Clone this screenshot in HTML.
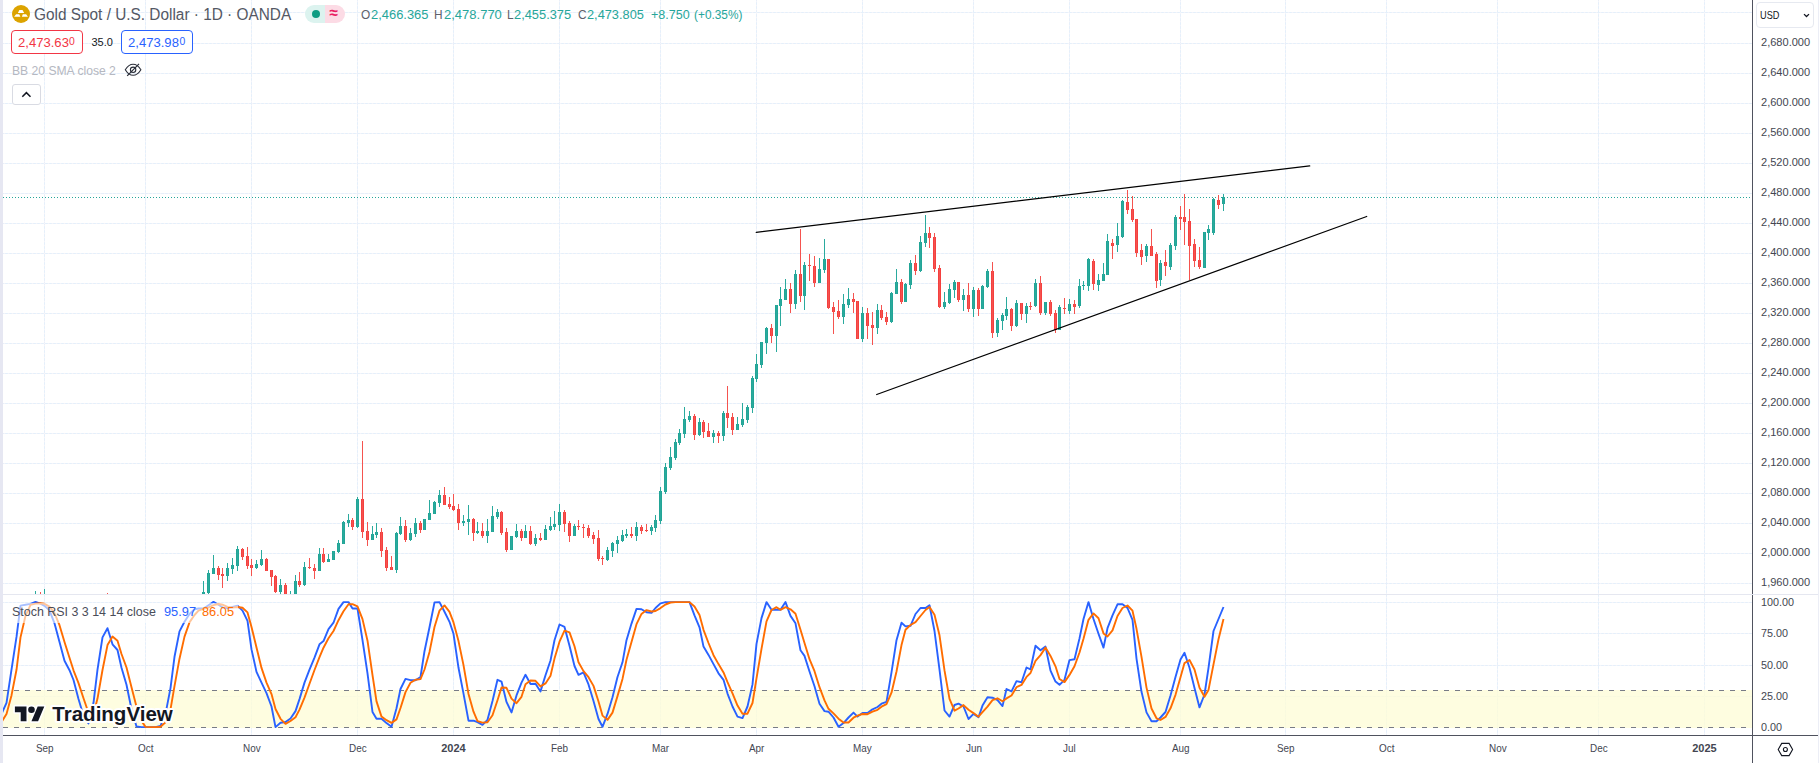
<!DOCTYPE html><html><head><meta charset="utf-8"><title>XAUUSD</title><style>
html,body{margin:0;padding:0;background:#fff}
body{width:1819px;height:763px;position:relative;overflow:hidden;font-family:"Liberation Sans",sans-serif;}
.t{position:absolute;white-space:nowrap;line-height:1;}
.pl{font-size:11px;color:#434651;left:1761px}
.tl{font-size:11px;color:#434651;top:742.5px;transform:translateX(-50%)}

</style></head><body>
<svg width="1819" height="763" viewBox="0 0 1819 763" style="position:absolute;left:0;top:0">
<defs><clipPath id="mp"><rect x="3" y="0" width="1749" height="594"/></clipPath><clipPath id="sp"><rect x="3" y="595" width="1749" height="140"/></clipPath></defs>
<defs><pattern id="gh" x="0" y="0" width="4" height="1" patternUnits="userSpaceOnUse"><rect x="0" y="0" width="1" height="1" fill="#f2f5fb"/><rect x="1" y="0" width="1" height="1" fill="#eaeff9"/><rect x="2" y="0" width="1" height="1" fill="#e2f1fc"/><rect x="3" y="0" width="1" height="1" fill="#eaeff9"/></pattern><pattern id="gv" x="0" y="0" width="1" height="4" patternUnits="userSpaceOnUse"><rect x="0" y="0" width="1" height="1" fill="#eaeff9"/><rect x="0" y="1" width="1" height="1" fill="#f2f5fb"/><rect x="0" y="2" width="1" height="1" fill="#eaeff9"/><rect x="0" y="3" width="1" height="1" fill="#e2f1fc"/></pattern></defs>
<g shape-rendering="crispEdges">
<rect x="44" y="0" width="1" height="735" fill="url(#gv)"/>
<rect x="145" y="0" width="1" height="735" fill="url(#gv)"/>
<rect x="251" y="0" width="1" height="735" fill="url(#gv)"/>
<rect x="357" y="0" width="1" height="735" fill="url(#gv)"/>
<rect x="453" y="0" width="1" height="735" fill="url(#gv)"/>
<rect x="559" y="0" width="1" height="735" fill="url(#gv)"/>
<rect x="660" y="0" width="1" height="735" fill="url(#gv)"/>
<rect x="756" y="0" width="1" height="735" fill="url(#gv)"/>
<rect x="862" y="0" width="1" height="735" fill="url(#gv)"/>
<rect x="973" y="0" width="1" height="735" fill="url(#gv)"/>
<rect x="1069" y="0" width="1" height="735" fill="url(#gv)"/>
<rect x="1180" y="0" width="1" height="735" fill="url(#gv)"/>
<rect x="1285" y="0" width="1" height="735" fill="url(#gv)"/>
<rect x="1386" y="0" width="1" height="735" fill="url(#gv)"/>
<rect x="1497" y="0" width="1" height="735" fill="url(#gv)"/>
<rect x="1598" y="0" width="1" height="735" fill="url(#gv)"/>
<rect x="1704" y="0" width="1" height="735" fill="url(#gv)"/>
<rect x="3" y="12" width="1749" height="1" fill="url(#gh)"/>
<rect x="3" y="43" width="1749" height="1" fill="url(#gh)"/>
<rect x="3" y="73" width="1749" height="1" fill="url(#gh)"/>
<rect x="3" y="103" width="1749" height="1" fill="url(#gh)"/>
<rect x="3" y="133" width="1749" height="1" fill="url(#gh)"/>
<rect x="3" y="163" width="1749" height="1" fill="url(#gh)"/>
<rect x="3" y="193" width="1749" height="1" fill="url(#gh)"/>
<rect x="3" y="223" width="1749" height="1" fill="url(#gh)"/>
<rect x="3" y="253" width="1749" height="1" fill="url(#gh)"/>
<rect x="3" y="283" width="1749" height="1" fill="url(#gh)"/>
<rect x="3" y="313" width="1749" height="1" fill="url(#gh)"/>
<rect x="3" y="343" width="1749" height="1" fill="url(#gh)"/>
<rect x="3" y="373" width="1749" height="1" fill="url(#gh)"/>
<rect x="3" y="403" width="1749" height="1" fill="url(#gh)"/>
<rect x="3" y="433" width="1749" height="1" fill="url(#gh)"/>
<rect x="3" y="463" width="1749" height="1" fill="url(#gh)"/>
<rect x="3" y="493" width="1749" height="1" fill="url(#gh)"/>
<rect x="3" y="523" width="1749" height="1" fill="url(#gh)"/>
<rect x="3" y="553" width="1749" height="1" fill="url(#gh)"/>
<rect x="3" y="583" width="1749" height="1" fill="url(#gh)"/>
<rect x="3" y="602" width="1749" height="1" fill="url(#gh)"/>
<rect x="3" y="633" width="1749" height="1" fill="url(#gh)"/>
<rect x="3" y="665" width="1749" height="1" fill="url(#gh)"/>
<rect x="3" y="696" width="1749" height="1" fill="url(#gh)"/>
</g>
<g shape-rendering="crispEdges">
<rect x="3" y="690" width="1749" height="38" fill="#fefcd6" fill-opacity="0.75"/>
</g>
<g stroke="#787b86" stroke-width="1" stroke-dasharray="5 6" shape-rendering="crispEdges"><line x1="3" y1="690.5" x2="1752" y2="690.5"/><line x1="3" y1="727.5" x2="1752" y2="727.5"/></g>
<line x1="3" y1="197.5" x2="1752" y2="197.5" stroke="#26a69a" stroke-width="1" stroke-dasharray="1 2" shape-rendering="crispEdges"/>
<g clip-path="url(#mp)" shape-rendering="crispEdges">
<rect x="34" y="596" width="3" height="4" fill="#22a596"/><rect x="35" y="591" width="1" height="9" fill="#2aaa9e"/>
<rect x="39" y="596" width="3" height="4" fill="#f4403f"/><rect x="40" y="592" width="1" height="8" fill="#f5534f"/>
<rect x="43" y="596" width="3" height="4" fill="#22a596"/><rect x="44" y="589" width="1" height="11" fill="#2aaa9e"/>
<rect x="106" y="596" width="3" height="4" fill="#f4403f"/><rect x="107" y="593" width="1" height="7" fill="#f5534f"/>
<rect x="202" y="592" width="3" height="8" fill="#22a596"/><rect x="203" y="581" width="1" height="19" fill="#2aaa9e"/>
<rect x="207" y="573" width="3" height="20" fill="#22a596"/><rect x="208" y="570" width="1" height="24" fill="#2aaa9e"/>
<rect x="212" y="568" width="3" height="6" fill="#22a596"/><rect x="213" y="555" width="1" height="19" fill="#2aaa9e"/>
<rect x="217" y="568" width="3" height="7" fill="#f4403f"/><rect x="218" y="566" width="1" height="14" fill="#f5534f"/>
<rect x="221" y="574" width="3" height="2" fill="#f4403f"/><rect x="222" y="568" width="1" height="20" fill="#f5534f"/>
<rect x="226" y="568" width="3" height="8" fill="#22a596"/><rect x="227" y="563" width="1" height="18" fill="#2aaa9e"/>
<rect x="231" y="565" width="3" height="4" fill="#22a596"/><rect x="232" y="558" width="1" height="16" fill="#2aaa9e"/>
<rect x="236" y="549" width="3" height="17" fill="#22a596"/><rect x="237" y="546" width="1" height="25" fill="#2aaa9e"/>
<rect x="241" y="549" width="3" height="8" fill="#f4403f"/><rect x="242" y="548" width="1" height="12" fill="#f5534f"/>
<rect x="246" y="556" width="3" height="10" fill="#f4403f"/><rect x="247" y="547" width="1" height="22" fill="#f5534f"/>
<rect x="250" y="565" width="3" height="3" fill="#f4403f"/><rect x="251" y="559" width="1" height="17" fill="#f5534f"/>
<rect x="255" y="564" width="3" height="4" fill="#22a596"/><rect x="256" y="560" width="1" height="9" fill="#2aaa9e"/>
<rect x="260" y="559" width="3" height="6" fill="#22a596"/><rect x="261" y="550" width="1" height="16" fill="#2aaa9e"/>
<rect x="265" y="559" width="3" height="12" fill="#f4403f"/><rect x="266" y="558" width="1" height="13" fill="#f5534f"/>
<rect x="270" y="570" width="3" height="7" fill="#f4403f"/><rect x="271" y="570" width="1" height="16" fill="#f5534f"/>
<rect x="274" y="576" width="3" height="16" fill="#f4403f"/><rect x="275" y="575" width="1" height="18" fill="#f5534f"/>
<rect x="279" y="585" width="3" height="7" fill="#22a596"/><rect x="280" y="579" width="1" height="15" fill="#2aaa9e"/>
<rect x="284" y="585" width="3" height="15" fill="#f4403f"/><rect x="285" y="583" width="1" height="17" fill="#f5534f"/>
<rect x="289" y="597" width="3" height="3" fill="#22a596"/><rect x="290" y="591" width="1" height="9" fill="#2aaa9e"/>
<rect x="294" y="581" width="3" height="19" fill="#22a596"/><rect x="295" y="575" width="1" height="25" fill="#2aaa9e"/>
<rect x="298" y="581" width="3" height="4" fill="#f4403f"/><rect x="299" y="572" width="1" height="15" fill="#f5534f"/>
<rect x="303" y="567" width="3" height="18" fill="#22a596"/><rect x="304" y="562" width="1" height="24" fill="#2aaa9e"/>
<rect x="308" y="567" width="3" height="1" fill="#f4403f"/><rect x="309" y="558" width="1" height="11" fill="#f5534f"/>
<rect x="313" y="568" width="3" height="3" fill="#f4403f"/><rect x="314" y="564" width="1" height="15" fill="#f5534f"/>
<rect x="318" y="554" width="3" height="17" fill="#22a596"/><rect x="319" y="548" width="1" height="23" fill="#2aaa9e"/>
<rect x="322" y="554" width="3" height="8" fill="#f4403f"/><rect x="323" y="548" width="1" height="15" fill="#f5534f"/>
<rect x="327" y="559" width="3" height="3" fill="#22a596"/><rect x="328" y="554" width="1" height="8" fill="#2aaa9e"/>
<rect x="332" y="551" width="3" height="9" fill="#22a596"/><rect x="333" y="551" width="1" height="9" fill="#2aaa9e"/>
<rect x="337" y="543" width="3" height="9" fill="#22a596"/><rect x="338" y="540" width="1" height="13" fill="#2aaa9e"/>
<rect x="342" y="522" width="3" height="22" fill="#22a596"/><rect x="343" y="521" width="1" height="23" fill="#2aaa9e"/>
<rect x="347" y="520" width="3" height="3" fill="#22a596"/><rect x="348" y="514" width="1" height="13" fill="#2aaa9e"/>
<rect x="351" y="520" width="3" height="7" fill="#f4403f"/><rect x="352" y="518" width="1" height="12" fill="#f5534f"/>
<rect x="356" y="499" width="3" height="28" fill="#22a596"/><rect x="357" y="497" width="1" height="31" fill="#2aaa9e"/>
<rect x="361" y="499" width="3" height="33" fill="#f4403f"/><rect x="362" y="441" width="1" height="97" fill="#f5534f"/>
<rect x="366" y="531" width="3" height="9" fill="#f4403f"/><rect x="367" y="522" width="1" height="24" fill="#f5534f"/>
<rect x="371" y="534" width="3" height="6" fill="#22a596"/><rect x="372" y="526" width="1" height="14" fill="#2aaa9e"/>
<rect x="375" y="532" width="3" height="3" fill="#22a596"/><rect x="376" y="523" width="1" height="15" fill="#2aaa9e"/>
<rect x="380" y="532" width="3" height="19" fill="#f4403f"/><rect x="381" y="528" width="1" height="29" fill="#f5534f"/>
<rect x="385" y="550" width="3" height="18" fill="#f4403f"/><rect x="386" y="547" width="1" height="24" fill="#f5534f"/>
<rect x="390" y="567" width="3" height="3" fill="#f4403f"/><rect x="391" y="556" width="1" height="14" fill="#f5534f"/>
<rect x="395" y="533" width="3" height="37" fill="#22a596"/><rect x="396" y="532" width="1" height="41" fill="#2aaa9e"/>
<rect x="399" y="526" width="3" height="8" fill="#22a596"/><rect x="400" y="517" width="1" height="18" fill="#2aaa9e"/>
<rect x="404" y="526" width="3" height="14" fill="#f4403f"/><rect x="405" y="520" width="1" height="22" fill="#f5534f"/>
<rect x="409" y="533" width="3" height="7" fill="#22a596"/><rect x="410" y="528" width="1" height="13" fill="#2aaa9e"/>
<rect x="414" y="523" width="3" height="11" fill="#22a596"/><rect x="415" y="518" width="1" height="19" fill="#2aaa9e"/>
<rect x="419" y="523" width="3" height="7" fill="#f4403f"/><rect x="420" y="521" width="1" height="12" fill="#f5534f"/>
<rect x="423" y="519" width="3" height="11" fill="#22a596"/><rect x="424" y="519" width="1" height="11" fill="#2aaa9e"/>
<rect x="428" y="513" width="3" height="7" fill="#22a596"/><rect x="429" y="500" width="1" height="20" fill="#2aaa9e"/>
<rect x="433" y="502" width="3" height="12" fill="#22a596"/><rect x="434" y="501" width="1" height="13" fill="#2aaa9e"/>
<rect x="438" y="495" width="3" height="8" fill="#22a596"/><rect x="439" y="490" width="1" height="17" fill="#2aaa9e"/>
<rect x="443" y="495" width="3" height="10" fill="#f4403f"/><rect x="444" y="487" width="1" height="18" fill="#f5534f"/>
<rect x="448" y="504" width="3" height="3" fill="#f4403f"/><rect x="449" y="497" width="1" height="12" fill="#f5534f"/>
<rect x="452" y="506" width="3" height="4" fill="#f4403f"/><rect x="453" y="494" width="1" height="17" fill="#f5534f"/>
<rect x="457" y="509" width="3" height="14" fill="#f4403f"/><rect x="458" y="504" width="1" height="26" fill="#f5534f"/>
<rect x="462" y="521" width="3" height="2" fill="#22a596"/><rect x="463" y="515" width="1" height="11" fill="#2aaa9e"/>
<rect x="467" y="519" width="3" height="3" fill="#22a596"/><rect x="468" y="505" width="1" height="30" fill="#2aaa9e"/>
<rect x="472" y="519" width="3" height="14" fill="#f4403f"/><rect x="473" y="518" width="1" height="23" fill="#f5534f"/>
<rect x="476" y="531" width="3" height="2" fill="#22a596"/><rect x="477" y="522" width="1" height="12" fill="#2aaa9e"/>
<rect x="481" y="531" width="3" height="5" fill="#f4403f"/><rect x="482" y="523" width="1" height="15" fill="#f5534f"/>
<rect x="486" y="531" width="3" height="5" fill="#22a596"/><rect x="487" y="519" width="1" height="24" fill="#2aaa9e"/>
<rect x="491" y="516" width="3" height="16" fill="#22a596"/><rect x="492" y="506" width="1" height="26" fill="#2aaa9e"/>
<rect x="496" y="512" width="3" height="5" fill="#22a596"/><rect x="497" y="509" width="1" height="10" fill="#2aaa9e"/>
<rect x="500" y="512" width="3" height="21" fill="#f4403f"/><rect x="501" y="511" width="1" height="24" fill="#f5534f"/>
<rect x="505" y="532" width="3" height="18" fill="#f4403f"/><rect x="506" y="528" width="1" height="24" fill="#f5534f"/>
<rect x="510" y="536" width="3" height="14" fill="#22a596"/><rect x="511" y="536" width="1" height="14" fill="#2aaa9e"/>
<rect x="515" y="531" width="3" height="6" fill="#22a596"/><rect x="516" y="524" width="1" height="14" fill="#2aaa9e"/>
<rect x="520" y="531" width="3" height="7" fill="#f4403f"/><rect x="521" y="529" width="1" height="12" fill="#f5534f"/>
<rect x="524" y="531" width="3" height="7" fill="#22a596"/><rect x="525" y="525" width="1" height="13" fill="#2aaa9e"/>
<rect x="529" y="531" width="3" height="13" fill="#f4403f"/><rect x="530" y="526" width="1" height="19" fill="#f5534f"/>
<rect x="534" y="538" width="3" height="6" fill="#22a596"/><rect x="535" y="534" width="1" height="12" fill="#2aaa9e"/>
<rect x="539" y="538" width="3" height="2" fill="#f4403f"/><rect x="540" y="533" width="1" height="8" fill="#f5534f"/>
<rect x="544" y="529" width="3" height="11" fill="#22a596"/><rect x="545" y="525" width="1" height="15" fill="#2aaa9e"/>
<rect x="549" y="526" width="3" height="4" fill="#22a596"/><rect x="550" y="517" width="1" height="14" fill="#2aaa9e"/>
<rect x="553" y="524" width="3" height="3" fill="#22a596"/><rect x="554" y="511" width="1" height="19" fill="#2aaa9e"/>
<rect x="558" y="512" width="3" height="13" fill="#22a596"/><rect x="559" y="504" width="1" height="27" fill="#2aaa9e"/>
<rect x="563" y="512" width="3" height="12" fill="#f4403f"/><rect x="564" y="510" width="1" height="22" fill="#f5534f"/>
<rect x="568" y="523" width="3" height="13" fill="#f4403f"/><rect x="569" y="521" width="1" height="21" fill="#f5534f"/>
<rect x="573" y="526" width="3" height="10" fill="#22a596"/><rect x="574" y="524" width="1" height="12" fill="#2aaa9e"/>
<rect x="577" y="526" width="3" height="1" fill="#f4403f"/><rect x="578" y="520" width="1" height="10" fill="#f5534f"/>
<rect x="582" y="527" width="3" height="1" fill="#f4403f"/><rect x="583" y="524" width="1" height="14" fill="#f5534f"/>
<rect x="587" y="528" width="3" height="8" fill="#f4403f"/><rect x="588" y="525" width="1" height="13" fill="#f5534f"/>
<rect x="592" y="535" width="3" height="4" fill="#f4403f"/><rect x="593" y="532" width="1" height="12" fill="#f5534f"/>
<rect x="597" y="538" width="3" height="21" fill="#f4403f"/><rect x="598" y="530" width="1" height="31" fill="#f5534f"/>
<rect x="601" y="558" width="3" height="1" fill="#f4403f"/><rect x="602" y="556" width="1" height="9" fill="#f5534f"/>
<rect x="606" y="550" width="3" height="10" fill="#22a596"/><rect x="607" y="547" width="1" height="14" fill="#2aaa9e"/>
<rect x="611" y="543" width="3" height="8" fill="#22a596"/><rect x="612" y="542" width="1" height="15" fill="#2aaa9e"/>
<rect x="616" y="540" width="3" height="4" fill="#22a596"/><rect x="617" y="536" width="1" height="17" fill="#2aaa9e"/>
<rect x="621" y="535" width="3" height="6" fill="#22a596"/><rect x="622" y="530" width="1" height="12" fill="#2aaa9e"/>
<rect x="625" y="534" width="3" height="2" fill="#22a596"/><rect x="626" y="529" width="1" height="9" fill="#2aaa9e"/>
<rect x="630" y="534" width="3" height="2" fill="#f4403f"/><rect x="631" y="527" width="1" height="11" fill="#f5534f"/>
<rect x="635" y="527" width="3" height="9" fill="#22a596"/><rect x="636" y="522" width="1" height="19" fill="#2aaa9e"/>
<rect x="640" y="527" width="3" height="4" fill="#f4403f"/><rect x="641" y="525" width="1" height="9" fill="#f5534f"/>
<rect x="645" y="530" width="3" height="1" fill="#f4403f"/><rect x="646" y="524" width="1" height="8" fill="#f5534f"/>
<rect x="650" y="527" width="3" height="4" fill="#22a596"/><rect x="651" y="525" width="1" height="10" fill="#2aaa9e"/>
<rect x="654" y="520" width="3" height="8" fill="#22a596"/><rect x="655" y="515" width="1" height="17" fill="#2aaa9e"/>
<rect x="659" y="491" width="3" height="30" fill="#22a596"/><rect x="660" y="487" width="1" height="37" fill="#2aaa9e"/>
<rect x="664" y="467" width="3" height="25" fill="#22a596"/><rect x="665" y="463" width="1" height="31" fill="#2aaa9e"/>
<rect x="669" y="457" width="3" height="11" fill="#22a596"/><rect x="670" y="447" width="1" height="23" fill="#2aaa9e"/>
<rect x="674" y="442" width="3" height="16" fill="#22a596"/><rect x="675" y="439" width="1" height="21" fill="#2aaa9e"/>
<rect x="678" y="433" width="3" height="10" fill="#22a596"/><rect x="679" y="429" width="1" height="16" fill="#2aaa9e"/>
<rect x="683" y="419" width="3" height="15" fill="#22a596"/><rect x="684" y="407" width="1" height="31" fill="#2aaa9e"/>
<rect x="688" y="416" width="3" height="4" fill="#22a596"/><rect x="689" y="411" width="1" height="11" fill="#2aaa9e"/>
<rect x="693" y="416" width="3" height="19" fill="#f4403f"/><rect x="694" y="414" width="1" height="26" fill="#f5534f"/>
<rect x="698" y="422" width="3" height="13" fill="#22a596"/><rect x="699" y="418" width="1" height="18" fill="#2aaa9e"/>
<rect x="702" y="422" width="3" height="10" fill="#f4403f"/><rect x="703" y="420" width="1" height="18" fill="#f5534f"/>
<rect x="707" y="431" width="3" height="6" fill="#f4403f"/><rect x="708" y="423" width="1" height="14" fill="#f5534f"/>
<rect x="712" y="433" width="3" height="4" fill="#22a596"/><rect x="713" y="430" width="1" height="13" fill="#2aaa9e"/>
<rect x="717" y="433" width="3" height="3" fill="#f4403f"/><rect x="718" y="431" width="1" height="12" fill="#f5534f"/>
<rect x="722" y="413" width="3" height="23" fill="#22a596"/><rect x="723" y="411" width="1" height="30" fill="#2aaa9e"/>
<rect x="726" y="413" width="3" height="5" fill="#f4403f"/><rect x="727" y="386" width="1" height="42" fill="#f5534f"/>
<rect x="731" y="417" width="3" height="13" fill="#f4403f"/><rect x="732" y="413" width="1" height="22" fill="#f5534f"/>
<rect x="736" y="424" width="3" height="6" fill="#22a596"/><rect x="737" y="417" width="1" height="13" fill="#2aaa9e"/>
<rect x="741" y="419" width="3" height="6" fill="#22a596"/><rect x="742" y="403" width="1" height="24" fill="#2aaa9e"/>
<rect x="746" y="407" width="3" height="13" fill="#22a596"/><rect x="747" y="405" width="1" height="18" fill="#2aaa9e"/>
<rect x="751" y="378" width="3" height="30" fill="#22a596"/><rect x="752" y="376" width="1" height="37" fill="#2aaa9e"/>
<rect x="755" y="364" width="3" height="15" fill="#22a596"/><rect x="756" y="354" width="1" height="28" fill="#2aaa9e"/>
<rect x="760" y="342" width="3" height="23" fill="#22a596"/><rect x="761" y="342" width="1" height="26" fill="#2aaa9e"/>
<rect x="765" y="328" width="3" height="15" fill="#22a596"/><rect x="766" y="327" width="1" height="27" fill="#2aaa9e"/>
<rect x="770" y="328" width="3" height="8" fill="#f4403f"/><rect x="771" y="324" width="1" height="19" fill="#f5534f"/>
<rect x="775" y="305" width="3" height="31" fill="#22a596"/><rect x="776" y="305" width="1" height="47" fill="#2aaa9e"/>
<rect x="779" y="299" width="3" height="7" fill="#22a596"/><rect x="780" y="287" width="1" height="39" fill="#2aaa9e"/>
<rect x="784" y="289" width="3" height="11" fill="#22a596"/><rect x="785" y="279" width="1" height="21" fill="#2aaa9e"/>
<rect x="789" y="289" width="3" height="15" fill="#f4403f"/><rect x="790" y="283" width="1" height="30" fill="#f5534f"/>
<rect x="794" y="274" width="3" height="30" fill="#22a596"/><rect x="795" y="270" width="1" height="39" fill="#2aaa9e"/>
<rect x="799" y="274" width="3" height="22" fill="#f4403f"/><rect x="800" y="229" width="1" height="73" fill="#f5534f"/>
<rect x="803" y="265" width="3" height="31" fill="#22a596"/><rect x="804" y="262" width="1" height="48" fill="#2aaa9e"/>
<rect x="808" y="265" width="3" height="1" fill="#f4403f"/><rect x="809" y="254" width="1" height="27" fill="#f5534f"/>
<rect x="813" y="266" width="3" height="17" fill="#f4403f"/><rect x="814" y="256" width="1" height="31" fill="#f5534f"/>
<rect x="818" y="269" width="3" height="14" fill="#22a596"/><rect x="819" y="258" width="1" height="25" fill="#2aaa9e"/>
<rect x="823" y="259" width="3" height="11" fill="#22a596"/><rect x="824" y="239" width="1" height="34" fill="#2aaa9e"/>
<rect x="827" y="259" width="3" height="49" fill="#f4403f"/><rect x="828" y="259" width="1" height="50" fill="#f5534f"/>
<rect x="832" y="307" width="3" height="5" fill="#f4403f"/><rect x="833" y="302" width="1" height="32" fill="#f5534f"/>
<rect x="837" y="311" width="3" height="6" fill="#f4403f"/><rect x="838" y="300" width="1" height="19" fill="#f5534f"/>
<rect x="842" y="304" width="3" height="13" fill="#22a596"/><rect x="843" y="294" width="1" height="30" fill="#2aaa9e"/>
<rect x="847" y="299" width="3" height="6" fill="#22a596"/><rect x="848" y="288" width="1" height="20" fill="#2aaa9e"/>
<rect x="852" y="299" width="3" height="3" fill="#f4403f"/><rect x="853" y="293" width="1" height="20" fill="#f5534f"/>
<rect x="856" y="301" width="3" height="38" fill="#f4403f"/><rect x="857" y="301" width="1" height="38" fill="#f5534f"/>
<rect x="861" y="313" width="3" height="26" fill="#22a596"/><rect x="862" y="307" width="1" height="35" fill="#2aaa9e"/>
<rect x="866" y="313" width="3" height="13" fill="#f4403f"/><rect x="867" y="308" width="1" height="31" fill="#f5534f"/>
<rect x="871" y="325" width="3" height="3" fill="#f4403f"/><rect x="872" y="312" width="1" height="33" fill="#f5534f"/>
<rect x="876" y="310" width="3" height="18" fill="#22a596"/><rect x="877" y="304" width="1" height="30" fill="#2aaa9e"/>
<rect x="880" y="310" width="3" height="8" fill="#f4403f"/><rect x="881" y="305" width="1" height="15" fill="#f5534f"/>
<rect x="885" y="317" width="3" height="5" fill="#f4403f"/><rect x="886" y="312" width="1" height="13" fill="#f5534f"/>
<rect x="890" y="293" width="3" height="29" fill="#22a596"/><rect x="891" y="292" width="1" height="31" fill="#2aaa9e"/>
<rect x="895" y="282" width="3" height="12" fill="#22a596"/><rect x="896" y="269" width="1" height="25" fill="#2aaa9e"/>
<rect x="900" y="282" width="3" height="20" fill="#f4403f"/><rect x="901" y="279" width="1" height="25" fill="#f5534f"/>
<rect x="904" y="284" width="3" height="18" fill="#22a596"/><rect x="905" y="283" width="1" height="19" fill="#2aaa9e"/>
<rect x="909" y="263" width="3" height="22" fill="#22a596"/><rect x="910" y="260" width="1" height="29" fill="#2aaa9e"/>
<rect x="914" y="263" width="3" height="8" fill="#f4403f"/><rect x="915" y="255" width="1" height="20" fill="#f5534f"/>
<rect x="919" y="242" width="3" height="29" fill="#22a596"/><rect x="920" y="236" width="1" height="36" fill="#2aaa9e"/>
<rect x="924" y="233" width="3" height="10" fill="#22a596"/><rect x="925" y="215" width="1" height="32" fill="#2aaa9e"/>
<rect x="928" y="233" width="3" height="5" fill="#f4403f"/><rect x="929" y="227" width="1" height="21" fill="#f5534f"/>
<rect x="933" y="237" width="3" height="32" fill="#f4403f"/><rect x="934" y="233" width="1" height="39" fill="#f5534f"/>
<rect x="938" y="268" width="3" height="39" fill="#f4403f"/><rect x="939" y="265" width="1" height="43" fill="#f5534f"/>
<rect x="943" y="302" width="3" height="5" fill="#22a596"/><rect x="944" y="292" width="1" height="17" fill="#2aaa9e"/>
<rect x="948" y="289" width="3" height="14" fill="#22a596"/><rect x="949" y="284" width="1" height="20" fill="#2aaa9e"/>
<rect x="953" y="282" width="3" height="8" fill="#22a596"/><rect x="954" y="280" width="1" height="18" fill="#2aaa9e"/>
<rect x="957" y="282" width="3" height="18" fill="#f4403f"/><rect x="958" y="282" width="1" height="20" fill="#f5534f"/>
<rect x="962" y="295" width="3" height="5" fill="#22a596"/><rect x="963" y="289" width="1" height="22" fill="#2aaa9e"/>
<rect x="967" y="295" width="3" height="14" fill="#f4403f"/><rect x="968" y="283" width="1" height="29" fill="#f5534f"/>
<rect x="972" y="290" width="3" height="19" fill="#22a596"/><rect x="973" y="287" width="1" height="30" fill="#2aaa9e"/>
<rect x="977" y="290" width="3" height="19" fill="#f4403f"/><rect x="978" y="288" width="1" height="28" fill="#f5534f"/>
<rect x="981" y="286" width="3" height="23" fill="#22a596"/><rect x="982" y="285" width="1" height="24" fill="#2aaa9e"/>
<rect x="986" y="271" width="3" height="16" fill="#22a596"/><rect x="987" y="269" width="1" height="19" fill="#2aaa9e"/>
<rect x="991" y="271" width="3" height="62" fill="#f4403f"/><rect x="992" y="262" width="1" height="76" fill="#f5534f"/>
<rect x="996" y="320" width="3" height="13" fill="#22a596"/><rect x="997" y="318" width="1" height="19" fill="#2aaa9e"/>
<rect x="1001" y="315" width="3" height="6" fill="#22a596"/><rect x="1002" y="313" width="1" height="17" fill="#2aaa9e"/>
<rect x="1005" y="309" width="3" height="7" fill="#22a596"/><rect x="1006" y="297" width="1" height="23" fill="#2aaa9e"/>
<rect x="1010" y="309" width="3" height="17" fill="#f4403f"/><rect x="1011" y="308" width="1" height="23" fill="#f5534f"/>
<rect x="1015" y="303" width="3" height="23" fill="#22a596"/><rect x="1016" y="300" width="1" height="27" fill="#2aaa9e"/>
<rect x="1020" y="303" width="3" height="11" fill="#f4403f"/><rect x="1021" y="303" width="1" height="17" fill="#f5534f"/>
<rect x="1025" y="306" width="3" height="8" fill="#22a596"/><rect x="1026" y="303" width="1" height="20" fill="#2aaa9e"/>
<rect x="1029" y="306" width="3" height="1" fill="#f4403f"/><rect x="1030" y="302" width="1" height="8" fill="#f5534f"/>
<rect x="1034" y="283" width="3" height="23" fill="#22a596"/><rect x="1035" y="279" width="1" height="28" fill="#2aaa9e"/>
<rect x="1039" y="283" width="3" height="30" fill="#f4403f"/><rect x="1040" y="276" width="1" height="39" fill="#f5534f"/>
<rect x="1044" y="302" width="3" height="11" fill="#22a596"/><rect x="1045" y="302" width="1" height="13" fill="#2aaa9e"/>
<rect x="1049" y="302" width="3" height="12" fill="#f4403f"/><rect x="1050" y="300" width="1" height="16" fill="#f5534f"/>
<rect x="1054" y="313" width="3" height="17" fill="#f4403f"/><rect x="1055" y="310" width="1" height="23" fill="#f5534f"/>
<rect x="1058" y="307" width="3" height="23" fill="#22a596"/><rect x="1059" y="305" width="1" height="25" fill="#2aaa9e"/>
<rect x="1063" y="308" width="3" height="1" fill="#f4403f"/><rect x="1064" y="298" width="1" height="16" fill="#f5534f"/>
<rect x="1068" y="304" width="3" height="7" fill="#22a596"/><rect x="1069" y="299" width="1" height="15" fill="#2aaa9e"/>
<rect x="1073" y="304" width="3" height="3" fill="#f4403f"/><rect x="1074" y="300" width="1" height="14" fill="#f5534f"/>
<rect x="1078" y="286" width="3" height="20" fill="#22a596"/><rect x="1079" y="279" width="1" height="29" fill="#2aaa9e"/>
<rect x="1082" y="285" width="3" height="1" fill="#22a596"/><rect x="1083" y="281" width="1" height="9" fill="#2aaa9e"/>
<rect x="1087" y="259" width="3" height="27" fill="#22a596"/><rect x="1088" y="258" width="1" height="33" fill="#2aaa9e"/>
<rect x="1092" y="261" width="3" height="23" fill="#f4403f"/><rect x="1093" y="259" width="1" height="31" fill="#f5534f"/>
<rect x="1097" y="280" width="3" height="5" fill="#22a596"/><rect x="1098" y="274" width="1" height="17" fill="#2aaa9e"/>
<rect x="1102" y="274" width="3" height="7" fill="#22a596"/><rect x="1103" y="263" width="1" height="18" fill="#2aaa9e"/>
<rect x="1106" y="241" width="3" height="34" fill="#22a596"/><rect x="1107" y="234" width="1" height="41" fill="#2aaa9e"/>
<rect x="1111" y="243" width="3" height="3" fill="#f4403f"/><rect x="1112" y="239" width="1" height="20" fill="#f5534f"/>
<rect x="1116" y="236" width="3" height="9" fill="#22a596"/><rect x="1117" y="223" width="1" height="29" fill="#2aaa9e"/>
<rect x="1121" y="201" width="3" height="36" fill="#22a596"/><rect x="1122" y="200" width="1" height="38" fill="#2aaa9e"/>
<rect x="1126" y="202" width="3" height="8" fill="#f4403f"/><rect x="1127" y="190" width="1" height="24" fill="#f5534f"/>
<rect x="1131" y="209" width="3" height="11" fill="#f4403f"/><rect x="1132" y="196" width="1" height="26" fill="#f5534f"/>
<rect x="1135" y="219" width="3" height="34" fill="#f4403f"/><rect x="1136" y="219" width="1" height="38" fill="#f5534f"/>
<rect x="1140" y="250" width="3" height="7" fill="#f4403f"/><rect x="1141" y="244" width="1" height="21" fill="#f5534f"/>
<rect x="1145" y="246" width="3" height="10" fill="#22a596"/><rect x="1146" y="244" width="1" height="18" fill="#2aaa9e"/>
<rect x="1150" y="246" width="3" height="10" fill="#f4403f"/><rect x="1151" y="229" width="1" height="27" fill="#f5534f"/>
<rect x="1155" y="254" width="3" height="27" fill="#f4403f"/><rect x="1156" y="252" width="1" height="36" fill="#f5534f"/>
<rect x="1159" y="263" width="3" height="17" fill="#22a596"/><rect x="1160" y="260" width="1" height="26" fill="#2aaa9e"/>
<rect x="1164" y="262" width="3" height="4" fill="#f4403f"/><rect x="1165" y="250" width="1" height="26" fill="#f5534f"/>
<rect x="1169" y="245" width="3" height="22" fill="#22a596"/><rect x="1170" y="243" width="1" height="27" fill="#2aaa9e"/>
<rect x="1174" y="217" width="3" height="29" fill="#22a596"/><rect x="1175" y="215" width="1" height="35" fill="#2aaa9e"/>
<rect x="1179" y="217" width="3" height="2" fill="#f4403f"/><rect x="1180" y="206" width="1" height="24" fill="#f5534f"/>
<rect x="1183" y="217" width="3" height="5" fill="#f4403f"/><rect x="1184" y="194" width="1" height="51" fill="#f5534f"/>
<rect x="1188" y="221" width="3" height="25" fill="#f4403f"/><rect x="1189" y="209" width="1" height="71" fill="#f5534f"/>
<rect x="1193" y="244" width="3" height="17" fill="#f4403f"/><rect x="1194" y="239" width="1" height="28" fill="#f5534f"/>
<rect x="1198" y="260" width="3" height="7" fill="#f4403f"/><rect x="1199" y="247" width="1" height="22" fill="#f5534f"/>
<rect x="1203" y="232" width="3" height="36" fill="#22a596"/><rect x="1204" y="232" width="1" height="36" fill="#2aaa9e"/>
<rect x="1207" y="229" width="3" height="4" fill="#22a596"/><rect x="1208" y="225" width="1" height="15" fill="#2aaa9e"/>
<rect x="1212" y="199" width="3" height="34" fill="#22a596"/><rect x="1213" y="198" width="1" height="37" fill="#2aaa9e"/>
<rect x="1217" y="200" width="3" height="5" fill="#f4403f"/><rect x="1218" y="195" width="1" height="14" fill="#f5534f"/>
<rect x="1222" y="197" width="3" height="7" fill="#22a596"/><rect x="1223" y="194" width="1" height="17" fill="#2aaa9e"/>
</g>
<g stroke="#000" stroke-width="1.25" stroke-linecap="round" clip-path="url(#mp)"><line x1="756.2" y1="232.3" x2="1309.7" y2="165.9"/><line x1="876.7" y1="394.5" x2="1366.7" y2="216.5"/></g>
<g clip-path="url(#sp)"><polyline points="1.5,713.9 6.5,702.8 11.5,669.7 16.5,636.9 20.5,605.6 25.5,604.8 30.5,603.9 35.5,601.9 40.5,603.7 44.5,605.8 49.5,610.4 54.5,623.3 59.5,642.0 64.5,660.8 69.5,670.2 73.5,680.0 78.5,699.1 83.5,715.7 88.5,723.4 93.5,702.8 97.5,669.7 102.5,637.4 107.5,628.2 112.5,644.3 117.5,650.0 121.5,667.8 126.5,684.8 131.5,709.3 136.5,726.4 141.5,727.1 145.5,727.1 150.5,727.1 155.5,727.1 160.5,725.8 165.5,713.9 170.5,688.1 174.5,656.8 179.5,631.4 184.5,621.8 189.5,614.0 194.5,609.3 198.5,608.5 203.5,608.5 208.5,605.2 213.5,601.9 218.5,604.8 222.5,607.4 227.5,608.3 232.5,607.0 237.5,605.6 242.5,610.7 247.5,620.9 251.5,649.4 256.5,671.9 261.5,682.6 266.5,693.2 271.5,706.5 275.5,727.1 280.5,722.7 285.5,722.0 290.5,718.5 295.5,711.1 299.5,699.1 304.5,682.6 309.5,669.7 314.5,657.7 319.5,644.3 323.5,641.1 328.5,629.1 333.5,622.7 338.5,608.9 343.5,602.1 348.5,602.1 352.5,608.5 357.5,608.5 362.5,640.2 367.5,673.3 372.5,712.0 376.5,718.8 381.5,718.8 386.5,723.1 391.5,726.8 396.5,708.3 400.5,689.0 405.5,678.9 410.5,680.2 415.5,680.2 420.5,677.0 424.5,651.2 429.5,627.3 434.5,602.4 439.5,602.1 444.5,611.7 449.5,621.8 453.5,633.8 458.5,667.8 463.5,693.6 468.5,720.7 473.5,720.7 477.5,722.2 482.5,724.9 487.5,719.8 492.5,701.0 497.5,679.8 501.5,681.6 506.5,701.9 511.5,712.4 516.5,695.4 521.5,682.6 525.5,674.8 530.5,684.0 535.5,683.7 540.5,691.4 545.5,675.2 550.5,660.5 554.5,640.2 559.5,624.5 564.5,626.9 569.5,645.7 574.5,666.0 578.5,674.8 583.5,672.4 588.5,684.4 593.5,701.0 598.5,719.0 602.5,726.8 607.5,713.9 612.5,697.3 617.5,677.0 622.5,662.3 626.5,640.2 631.5,623.6 636.5,608.9 641.5,609.3 646.5,612.2 651.5,612.9 655.5,608.0 660.5,603.4 665.5,602.1 670.5,602.1 675.5,602.1 679.5,602.1 684.5,602.1 689.5,602.1 694.5,615.3 699.5,627.3 703.5,646.6 708.5,654.9 713.5,664.1 718.5,673.3 723.5,679.8 727.5,693.6 732.5,706.5 737.5,716.6 742.5,718.1 747.5,706.5 752.5,684.4 756.5,643.9 761.5,618.1 766.5,602.1 771.5,609.8 776.5,609.8 780.5,609.8 785.5,602.1 790.5,615.9 795.5,623.3 800.5,650.3 804.5,655.9 809.5,671.5 814.5,686.2 819.5,703.7 824.5,711.1 828.5,711.7 833.5,717.5 838.5,726.8 843.5,723.1 848.5,717.5 853.5,712.6 857.5,716.6 862.5,712.9 867.5,712.9 872.5,709.3 877.5,707.0 881.5,703.7 886.5,701.9 891.5,672.4 896.5,640.2 901.5,622.7 905.5,626.4 910.5,625.8 915.5,614.0 920.5,608.0 925.5,608.0 929.5,605.2 934.5,631.0 939.5,669.7 944.5,710.5 949.5,716.6 954.5,705.0 958.5,703.7 963.5,706.5 968.5,719.0 973.5,713.9 978.5,717.2 982.5,705.6 987.5,697.3 992.5,697.7 997.5,700.1 1002.5,706.1 1006.5,689.0 1011.5,691.4 1016.5,681.1 1021.5,682.2 1026.5,667.5 1030.5,669.3 1035.5,645.7 1040.5,650.3 1045.5,646.6 1050.5,670.6 1055.5,681.6 1059.5,684.8 1064.5,679.8 1069.5,660.1 1074.5,659.2 1079.5,638.4 1083.5,619.0 1088.5,602.1 1093.5,619.0 1098.5,633.8 1103.5,647.6 1107.5,628.2 1112.5,615.3 1117.5,604.3 1122.5,604.3 1127.5,608.0 1132.5,619.9 1136.5,658.6 1141.5,691.8 1146.5,712.4 1151.5,721.2 1156.5,721.2 1160.5,717.5 1165.5,712.0 1170.5,695.4 1175.5,677.0 1180.5,659.5 1184.5,652.7 1189.5,667.8 1194.5,688.1 1199.5,707.4 1204.5,694.5 1208.5,667.8 1213.5,631.0 1218.5,619.0 1223.5,607.0" fill="none" stroke="#2962ff" stroke-width="1.9" stroke-linejoin="round"/><polyline points="1.5,722.0 6.5,713.9 11.5,695.4 16.5,669.8 20.5,637.4 25.5,615.8 30.5,604.8 35.5,603.6 40.5,603.2 44.5,603.8 49.5,606.6 54.5,613.1 59.5,625.2 64.5,642.0 69.5,657.7 73.5,670.3 78.5,683.1 83.5,698.3 88.5,712.8 93.5,714.0 97.5,698.6 102.5,670.0 107.5,645.1 112.5,636.6 117.5,640.8 121.5,654.0 126.5,667.5 131.5,687.3 136.5,706.8 141.5,720.9 145.5,726.9 150.5,727.1 155.5,727.1 160.5,726.7 165.5,722.3 170.5,709.3 174.5,686.2 179.5,658.7 184.5,636.6 189.5,622.4 194.5,615.0 198.5,610.6 203.5,608.8 208.5,607.4 213.5,605.2 218.5,604.0 222.5,604.7 227.5,606.9 232.5,607.6 237.5,607.0 242.5,607.8 247.5,612.4 251.5,627.0 256.5,647.4 261.5,667.9 266.5,682.6 271.5,694.1 275.5,709.0 280.5,718.8 285.5,723.9 290.5,721.0 295.5,717.2 299.5,709.6 304.5,697.6 309.5,683.8 314.5,670.0 319.5,657.2 323.5,647.7 328.5,638.2 333.5,631.0 338.5,620.2 343.5,611.2 348.5,604.3 352.5,604.2 357.5,606.4 362.5,619.1 367.5,640.7 372.5,675.2 376.5,701.4 381.5,716.6 386.5,720.2 391.5,722.9 396.5,719.4 400.5,708.0 405.5,692.1 410.5,682.7 415.5,679.7 420.5,679.1 424.5,669.5 429.5,651.9 434.5,627.0 439.5,610.6 444.5,605.4 449.5,611.8 453.5,622.4 458.5,641.1 463.5,665.1 468.5,694.0 473.5,711.7 477.5,721.2 482.5,722.6 487.5,722.3 492.5,715.2 497.5,700.2 501.5,687.5 506.5,687.8 511.5,698.6 516.5,703.2 521.5,696.8 525.5,684.3 530.5,680.5 535.5,680.8 540.5,686.4 545.5,683.4 550.5,675.7 554.5,658.6 559.5,641.7 564.5,630.6 569.5,632.4 574.5,646.2 578.5,662.2 583.5,671.1 588.5,677.2 593.5,685.9 598.5,701.5 602.5,715.6 607.5,719.9 612.5,712.6 617.5,696.1 622.5,678.9 626.5,659.8 631.5,642.0 636.5,624.2 641.5,613.9 646.5,610.1 651.5,611.5 655.5,611.0 660.5,608.1 665.5,604.5 670.5,602.5 675.5,602.1 679.5,602.1 684.5,602.1 689.5,602.1 694.5,606.5 699.5,614.9 703.5,629.8 708.5,643.0 713.5,655.2 718.5,664.1 723.5,672.4 727.5,682.2 732.5,693.3 737.5,705.6 742.5,713.7 747.5,713.7 752.5,703.0 756.5,678.3 761.5,648.8 766.5,621.4 771.5,610.0 776.5,607.2 780.5,609.8 785.5,607.2 790.5,609.3 795.5,613.7 800.5,629.8 804.5,643.1 809.5,659.2 814.5,671.2 819.5,687.2 824.5,700.4 828.5,708.8 833.5,713.4 838.5,718.7 843.5,722.5 848.5,722.5 853.5,717.7 857.5,715.6 862.5,714.0 867.5,714.2 872.5,711.7 877.5,709.8 881.5,706.7 886.5,704.2 891.5,692.7 896.5,671.5 901.5,645.1 905.5,629.8 910.5,625.0 915.5,622.1 920.5,616.0 925.5,610.0 929.5,607.0 934.5,614.7 939.5,635.3 944.5,670.4 949.5,698.9 954.5,710.7 958.5,708.5 963.5,705.1 968.5,709.8 973.5,713.1 978.5,716.7 982.5,712.2 987.5,706.7 992.5,700.2 997.5,698.3 1002.5,701.3 1006.5,698.4 1011.5,695.5 1016.5,687.2 1021.5,684.9 1026.5,676.9 1030.5,673.0 1035.5,660.8 1040.5,655.1 1045.5,647.6 1050.5,655.9 1055.5,666.3 1059.5,679.0 1064.5,682.1 1069.5,674.9 1074.5,666.3 1079.5,652.5 1083.5,638.8 1088.5,619.8 1093.5,613.4 1098.5,618.3 1103.5,633.4 1107.5,636.5 1112.5,630.4 1117.5,616.0 1122.5,608.0 1127.5,605.5 1132.5,610.7 1136.5,628.8 1141.5,656.8 1146.5,687.6 1151.5,708.5 1156.5,718.3 1160.5,720.0 1165.5,716.9 1170.5,708.3 1175.5,694.8 1180.5,677.3 1184.5,663.1 1189.5,660.0 1194.5,669.5 1199.5,687.8 1204.5,696.7 1208.5,689.9 1213.5,664.4 1218.5,639.3 1223.5,619.0" fill="none" stroke="#ff6d00" stroke-width="1.9" stroke-linejoin="round"/></g>
<g shape-rendering="crispEdges">
<rect x="3" y="594" width="1816" height="1" fill="#e5e7f0"/>
<rect x="1752" y="0" width="1" height="594" fill="#4f525e"/><rect x="1752" y="595" width="1" height="168" fill="#4f525e"/>
<rect x="3" y="735" width="1815" height="1" fill="#4f525e"/>
<rect x="0" y="0" width="3" height="763" fill="#e6e7f2"/><rect x="1818" y="0" width="1" height="763" fill="#eceef6"/>
</g>
</svg>
<div class="t" style="left:1760.60px;top:37.28px;font-size:11.4px;color:#434651;transform:scaleX(0.9701);transform-origin:0 0;">2,680.000</div>
<div class="t" style="left:1760.60px;top:67.28px;font-size:11.4px;color:#434651;transform:scaleX(0.9701);transform-origin:0 0;">2,640.000</div>
<div class="t" style="left:1760.60px;top:97.28px;font-size:11.4px;color:#434651;transform:scaleX(0.9701);transform-origin:0 0;">2,600.000</div>
<div class="t" style="left:1760.60px;top:127.28px;font-size:11.4px;color:#434651;transform:scaleX(0.9701);transform-origin:0 0;">2,560.000</div>
<div class="t" style="left:1760.60px;top:157.28px;font-size:11.4px;color:#434651;transform:scaleX(0.9701);transform-origin:0 0;">2,520.000</div>
<div class="t" style="left:1760.60px;top:187.28px;font-size:11.4px;color:#434651;transform:scaleX(0.9701);transform-origin:0 0;">2,480.000</div>
<div class="t" style="left:1760.60px;top:217.28px;font-size:11.4px;color:#434651;transform:scaleX(0.9701);transform-origin:0 0;">2,440.000</div>
<div class="t" style="left:1760.60px;top:247.28px;font-size:11.4px;color:#434651;transform:scaleX(0.9701);transform-origin:0 0;">2,400.000</div>
<div class="t" style="left:1760.60px;top:277.28px;font-size:11.4px;color:#434651;transform:scaleX(0.9701);transform-origin:0 0;">2,360.000</div>
<div class="t" style="left:1760.60px;top:307.28px;font-size:11.4px;color:#434651;transform:scaleX(0.9701);transform-origin:0 0;">2,320.000</div>
<div class="t" style="left:1760.60px;top:337.28px;font-size:11.4px;color:#434651;transform:scaleX(0.9701);transform-origin:0 0;">2,280.000</div>
<div class="t" style="left:1760.60px;top:367.28px;font-size:11.4px;color:#434651;transform:scaleX(0.9701);transform-origin:0 0;">2,240.000</div>
<div class="t" style="left:1760.60px;top:397.28px;font-size:11.4px;color:#434651;transform:scaleX(0.9701);transform-origin:0 0;">2,200.000</div>
<div class="t" style="left:1760.60px;top:427.28px;font-size:11.4px;color:#434651;transform:scaleX(0.9701);transform-origin:0 0;">2,160.000</div>
<div class="t" style="left:1760.60px;top:457.28px;font-size:11.4px;color:#434651;transform:scaleX(0.9701);transform-origin:0 0;">2,120.000</div>
<div class="t" style="left:1760.60px;top:487.28px;font-size:11.4px;color:#434651;transform:scaleX(0.9701);transform-origin:0 0;">2,080.000</div>
<div class="t" style="left:1760.60px;top:517.28px;font-size:11.4px;color:#434651;transform:scaleX(0.9701);transform-origin:0 0;">2,040.000</div>
<div class="t" style="left:1760.60px;top:547.28px;font-size:11.4px;color:#434651;transform:scaleX(0.9701);transform-origin:0 0;">2,000.000</div>
<div class="t" style="left:1760.60px;top:577.28px;font-size:11.4px;color:#434651;transform:scaleX(0.9701);transform-origin:0 0;">1,960.000</div>
<div class="t" style="left:1760.60px;top:597.18px;font-size:11.4px;color:#434651;transform:scaleX(0.9470);transform-origin:0 0;">100.00</div>
<div class="t" style="left:1760.60px;top:628.18px;font-size:11.4px;color:#434651;transform:scaleX(0.9470);transform-origin:0 0;">75.00</div>
<div class="t" style="left:1760.60px;top:660.18px;font-size:11.4px;color:#434651;transform:scaleX(0.9470);transform-origin:0 0;">50.00</div>
<div class="t" style="left:1760.60px;top:691.18px;font-size:11.4px;color:#434651;transform:scaleX(0.9470);transform-origin:0 0;">25.00</div>
<div class="t" style="left:1760.60px;top:722.18px;font-size:11.4px;color:#434651;transform:scaleX(0.9470);transform-origin:0 0;">0.00</div>
<div class="t" style="left:35.69px;top:743.42px;font-size:11px;color:#434651;transform:scaleX(0.9000);transform-origin:0 0;">Sep</div>
<div class="t" style="left:137.80px;top:743.42px;font-size:11px;color:#434651;transform:scaleX(0.9000);transform-origin:0 0;">Oct</div>
<div class="t" style="left:242.70px;top:743.42px;font-size:11px;color:#434651;transform:scaleX(0.9000);transform-origin:0 0;">Nov</div>
<div class="t" style="left:348.70px;top:743.42px;font-size:11px;color:#434651;transform:scaleX(0.9000);transform-origin:0 0;">Dec</div>
<div class="t" style="left:441.26px;top:743.42px;font-size:11px;color:#434651;font-weight:bold;">2024</div>
<div class="t" style="left:550.97px;top:743.42px;font-size:11px;color:#434651;transform:scaleX(0.9000);transform-origin:0 0;">Feb</div>
<div class="t" style="left:651.98px;top:743.42px;font-size:11px;color:#434651;transform:scaleX(0.9000);transform-origin:0 0;">Mar</div>
<div class="t" style="left:748.80px;top:743.42px;font-size:11px;color:#434651;transform:scaleX(0.9000);transform-origin:0 0;">Apr</div>
<div class="t" style="left:853.15px;top:743.42px;font-size:11px;color:#434651;transform:scaleX(0.9000);transform-origin:0 0;">May</div>
<div class="t" style="left:965.52px;top:743.42px;font-size:11px;color:#434651;transform:scaleX(0.9000);transform-origin:0 0;">Jun</div>
<div class="t" style="left:1063.17px;top:743.42px;font-size:11px;color:#434651;transform:scaleX(0.9000);transform-origin:0 0;">Jul</div>
<div class="t" style="left:1171.69px;top:743.42px;font-size:11px;color:#434651;transform:scaleX(0.9000);transform-origin:0 0;">Aug</div>
<div class="t" style="left:1276.69px;top:743.42px;font-size:11px;color:#434651;transform:scaleX(0.9000);transform-origin:0 0;">Sep</div>
<div class="t" style="left:1378.80px;top:743.42px;font-size:11px;color:#434651;transform:scaleX(0.9000);transform-origin:0 0;">Oct</div>
<div class="t" style="left:1488.70px;top:743.42px;font-size:11px;color:#434651;transform:scaleX(0.9000);transform-origin:0 0;">Nov</div>
<div class="t" style="left:1589.70px;top:743.42px;font-size:11px;color:#434651;transform:scaleX(0.9000);transform-origin:0 0;">Dec</div>
<div class="t" style="left:1692.26px;top:743.42px;font-size:11px;color:#434651;font-weight:bold;">2025</div>
<div style="position:absolute;left:1756px;top:2px;width:56px;height:24px;border:1px solid #e6e9f0;border-radius:4px;background:#fff"></div>
<div class="t" style="left:1759.80px;top:10.18px;font-size:11.4px;color:#131722;transform:scaleX(0.8060);transform-origin:0 0;">USD</div>
<svg style="position:absolute;left:1802px;top:12px" width="9" height="7" viewBox="0 0 9 7"><path d="M2.0 2.1 L4.5 4.5 L7.0 2.1" fill="none" stroke="#131722" stroke-width="1.3"/></svg>
<svg style="position:absolute;left:1777px;top:742px" width="17" height="15" viewBox="0 0 17 15"><path d="M1.2 7.5 L4.7 1.4 H12.1 L15.6 7.5 L12.1 13.6 H4.7 Z" fill="none" stroke="#131722" stroke-width="1.1"/><circle cx="8.4" cy="7.5" r="2" fill="none" stroke="#131722" stroke-width="1.1"/></svg>
<svg style="position:absolute;left:12px;top:5px" width="18" height="18" viewBox="0 0 18 18"><circle cx="9" cy="9" r="9" fill="#dca300"/><path d="M7.4 5.1 H10.5 L12.2 7.9 H5.9 Z M4.1 9.2 H7.2 L8.4 11.7 H2.1 Z M10.8 9.2 H14.1 L16 11.7 H9.9 Z" fill="#fff"/></svg>
<div class="t" style="left:34.20px;top:7.32px;font-size:15.8px;color:#545864;transform:scaleX(0.9732);transform-origin:0 0;">Gold Spot / U.S. Dollar · 1D · OANDA</div>
<div style="position:absolute;left:305px;top:5px;width:40px;height:18px;border-radius:9px;overflow:hidden"><div style="position:absolute;left:0;top:0;width:20px;height:18px;background:#dcf3ef"></div><div style="position:absolute;left:20px;top:0;width:20px;height:18px;background:#fcdbe5"></div><div style="position:absolute;left:7px;top:5px;width:8px;height:8px;border-radius:4px;background:#0e9d83"></div></div>
<div class="t" style="left:329.6px;top:5.2px;font-size:15.5px;font-weight:bold;color:#e91e63">≈</div>
<div class="t" style="left:361.20px;top:7.54px;font-size:13.2px;color:#5d606b;transform:scaleX(0.9000);transform-origin:0 0;">O</div>
<div class="t" style="left:371.10px;top:7.54px;font-size:13.2px;color:#26a69a;transform:scaleX(0.9792);transform-origin:0 0;">2,466.365</div>
<div class="t" style="left:434.00px;top:7.54px;font-size:13.2px;color:#5d606b;transform:scaleX(0.9000);transform-origin:0 0;">H</div>
<div class="t" style="left:443.70px;top:7.54px;font-size:13.2px;color:#26a69a;transform:scaleX(0.9860);transform-origin:0 0;">2,478.770</div>
<div class="t" style="left:507.30px;top:7.54px;font-size:13.2px;color:#5d606b;transform:scaleX(0.9000);transform-origin:0 0;">L</div>
<div class="t" style="left:514.40px;top:7.54px;font-size:13.2px;color:#26a69a;transform:scaleX(0.9741);transform-origin:0 0;">2,455.375</div>
<div class="t" style="left:578.00px;top:7.54px;font-size:13.2px;color:#5d606b;transform:scaleX(0.9000);transform-origin:0 0;">C</div>
<div class="t" style="left:586.60px;top:7.54px;font-size:13.2px;color:#26a69a;transform:scaleX(0.9689);transform-origin:0 0;">2,473.805</div>
<div class="t" style="left:650.60px;top:7.54px;font-size:13.2px;color:#26a69a;transform:scaleX(0.9499);transform-origin:0 0;">+8.750</div>
<div class="t" style="left:693.90px;top:7.54px;font-size:13.2px;color:#26a69a;transform:scaleX(0.8993);transform-origin:0 0;">(+0.35%)</div>
<div style="position:absolute;left:11px;top:30px;width:70px;height:22px;border:1px solid #f23645;border-radius:4px;background:#fff"></div>
<div class="t" style="left:18.15px;top:35.64px;font-size:13.2px;color:#f23645;transform:scaleX(0.9916);transform-origin:0 0;">2,473.63</div>
<div class="t" style="left:69.10px;top:36.53px;font-size:10.4px;color:#f23645;">0</div>
<div class="t" style="left:91.50px;top:37.02px;font-size:11px;color:#131722;">35.0</div>
<div style="position:absolute;left:121px;top:30px;width:70px;height:22px;border:1px solid #2962ff;border-radius:4px;background:#fff"></div>
<div class="t" style="left:128.15px;top:35.64px;font-size:13.2px;color:#2962ff;transform:scaleX(0.9916);transform-origin:0 0;">2,473.98</div>
<div class="t" style="left:179.45px;top:36.53px;font-size:10.4px;color:#2962ff;">0</div>
<div class="t" style="left:11.60px;top:63.81px;font-size:13.0px;color:#b5b8c1;transform:scaleX(0.9332);transform-origin:0 0;">BB 20 SMA close 2</div>
<svg style="position:absolute;left:124px;top:62px" width="18" height="16" viewBox="0 0 18 16"><path d="M1.3 7.8 C4 3.4 7 2.3 9.1 2.3 C11.2 2.3 14.2 3.4 16.9 7.8 C14.2 12.2 11.2 13.3 9.1 13.3 C7 13.3 4 12.2 1.3 7.8 Z" fill="none" stroke="#2a2e39" stroke-width="1.1"/><circle cx="9.1" cy="7.8" r="2.7" fill="none" stroke="#2a2e39" stroke-width="1.1"/><path d="M3.2 13.9 L15 1.8" stroke="#2a2e39" stroke-width="1.2" fill="none"/></svg>
<div style="position:absolute;left:12px;top:84px;width:27px;height:19px;border:1px solid #d9dbe3;border-radius:3px;background:#fff"></div>
<svg style="position:absolute;left:20px;top:90px" width="13" height="9" viewBox="0 0 13 9"><path d="M2.3 6.7 L6.4 2.6 L10.5 6.7" fill="none" stroke="#131722" stroke-width="1.5"/></svg>
<div style="position:absolute;left:11px;top:603px;width:227px;height:20px;background:rgba(255,255,255,0.6)"></div>
<div class="t" style="left:11.80px;top:604.81px;font-size:13.0px;color:#4a4d59;transform:scaleX(0.9567);transform-origin:0 0;">Stoch RSI 3 3 14 14 close</div>
<div class="t" style="left:163.70px;top:604.81px;font-size:13.0px;color:#2962ff;transform:scaleX(0.9837);transform-origin:0 0;">95.97</div>
<div class="t" style="left:201.50px;top:604.81px;font-size:13.0px;color:#ff6d00;transform:scaleX(0.9837);transform-origin:0 0;">86.05</div>
<svg style="position:absolute;left:8px;top:698px" width="175" height="34" viewBox="0 0 175 34"><g fill="#fff" stroke="#fff" stroke-width="4" stroke-linejoin="round"><g transform="translate(6.9,5.1) scale(0.828)"><path d="M14 22H7V11H0V4h14v18zM28 22h-8l7.5-18h8L28 22z"/><circle cx="20" cy="8" r="4"/></g><text x="44.3" y="22.9" font-family="Liberation Sans, sans-serif" font-weight="bold" font-size="20.5" textLength="120.5" lengthAdjust="spacingAndGlyphs">TradingView</text></g><g fill="#131722"><g transform="translate(6.9,5.1) scale(0.828)"><path d="M14 22H7V11H0V4h14v18zM28 22h-8l7.5-18h8L28 22z"/><circle cx="20" cy="8" r="4"/></g><text x="44.3" y="22.9" font-family="Liberation Sans, sans-serif" font-weight="bold" font-size="20.5" textLength="120.5" lengthAdjust="spacingAndGlyphs">TradingView</text></g></svg>
</body></html>
